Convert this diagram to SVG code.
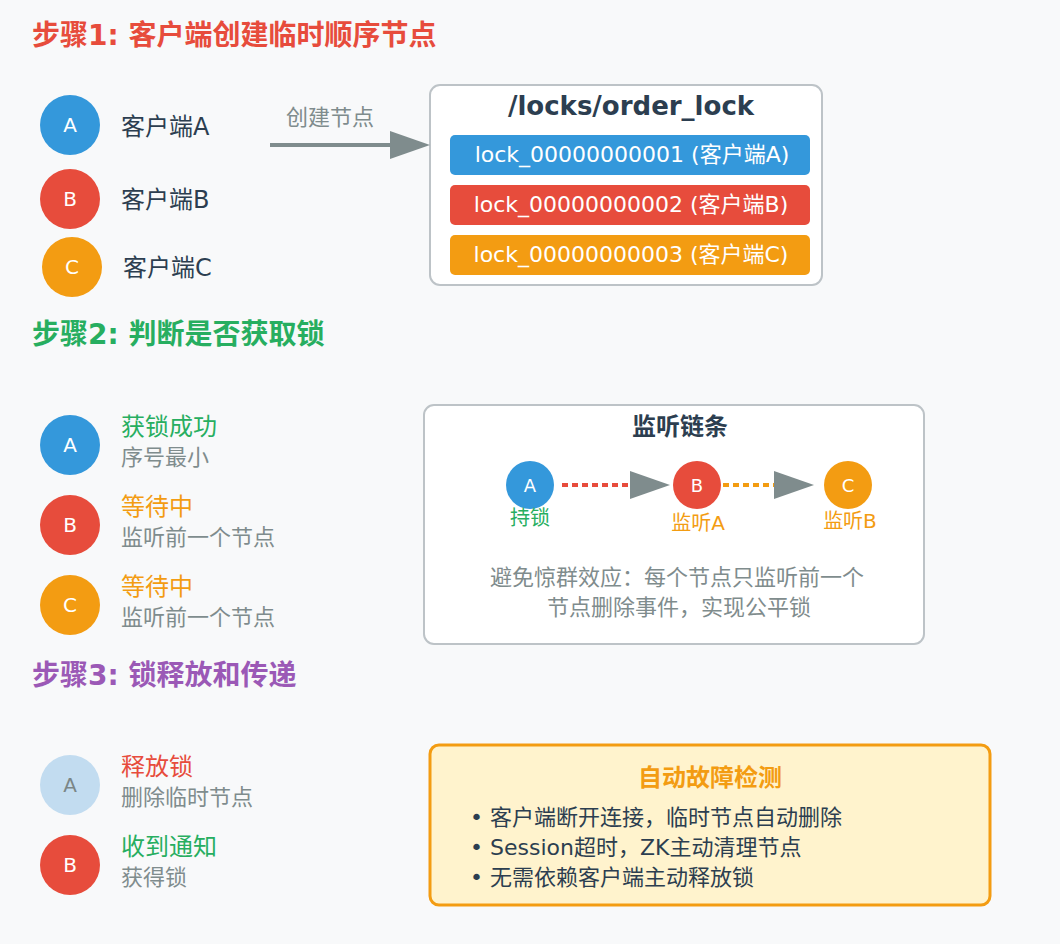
<svg xmlns="http://www.w3.org/2000/svg" width="1060" height="944" viewBox="0 0 1060 944">
<style>
text{font-family:'DejaVu Sans','Noto Sans CJK SC',sans-serif}
.step{font-size:28px;font-weight:bold}
.lbl{font-size:24px}
.sub{font-size:22px;fill:#7f8c8d}
.cl{font-size:20px;fill:#ffffff;text-anchor:middle}
.cs{font-size:18px;fill:#ffffff;text-anchor:middle}
.dark{fill:#2c3e50}
.panel{fill:#ffffff;stroke:#bdc3c7;stroke-width:2}
.bar{font-size:22px;fill:#ffffff;text-anchor:middle}
.blue{fill:#3498db}.red{fill:#e74c3c}.orange{fill:#f39c12}.green{fill:#27ae60}.purple{fill:#9b59b6}
.head{fill:#7f8c8d}
</style>
<rect width="1060" height="944" fill="#f8f9fa"/>

<text class="step red" x="32" y="45">步骤1: 客户端创建临时顺序节点</text>
<text class="step green" x="32" y="344">步骤2: 判断是否获取锁</text>
<text class="step purple" x="32" y="685">步骤3: 锁释放和传递</text>

<g id="s1-clientA"><circle cx="70" cy="125" r="30" class="blue"/><text class="cl" x="70" y="132">A</text><text class="lbl dark" x="121" y="135">客户端A</text></g>
<g id="s1-clientB"><circle cx="70" cy="199" r="30" class="red"/><text class="cl" x="70" y="206">B</text><text class="lbl dark" x="121" y="208">客户端B</text></g>
<g id="s1-clientC"><circle cx="72" cy="267" r="30" class="orange"/><text class="cl" x="72" y="274">C</text><text class="lbl dark" x="123" y="276">客户端C</text></g>

<g id="lock-node">
<rect class="panel" x="430" y="85" width="392" height="200" rx="10"/>
<text x="631" y="115" font-size="26" font-weight="bold" class="dark" text-anchor="middle">/locks/order_lock</text>
<rect x="450" y="135" width="360" height="40" rx="5" class="blue"/>
<text class="bar" x="632" y="162">lock_00000000001 (客户端A)</text>
<rect x="450" y="185" width="360" height="40" rx="5" class="red"/>
<text class="bar" x="631" y="212">lock_00000000002 (客户端B)</text>
<rect x="450" y="235" width="360" height="40" rx="5" class="orange"/>
<text class="bar" x="631" y="262">lock_00000000003 (客户端C)</text>
</g>

<g id="watch-chain">
<rect class="panel" x="424" y="405" width="500" height="239" rx="10"/>
<text x="680" y="435" font-size="24" font-weight="bold" class="dark" text-anchor="middle">监听链条</text>
<text x="677" y="585" font-size="22" fill="#7f8c8d" text-anchor="middle">避免惊群效应：每个节点只监听前一个</text>
<text x="679" y="615" font-size="22" fill="#7f8c8d" text-anchor="middle">节点删除事件，实现公平锁</text>
</g>

<g id="connectors">
<line x1="270" y1="145" x2="392" y2="145" stroke="#7f8c8d" stroke-width="4"/>
<polygon class="head" points="390,131 430,145 390,159"/>
<text x="330" y="125" font-size="22" fill="#7f8c8d" text-anchor="middle">创建节点</text>
<line x1="562" y1="485" x2="632" y2="485" stroke="#e74c3c" stroke-width="4" stroke-dasharray="6,4"/>
<polygon class="head" points="630,471 670,485 630,499"/>
<line x1="723" y1="485" x2="776" y2="485" stroke="#f39c12" stroke-width="4" stroke-dasharray="6,4"/>
<polygon class="head" points="774,471 814,485 774,499"/>
</g>

<g id="chain-A"><circle cx="530" cy="485" r="24" class="blue"/><text class="cs" x="530" y="492">A</text><text x="530" y="525" font-size="20" class="green" text-anchor="middle">持锁</text></g>
<g id="chain-B"><circle cx="697" cy="485" r="24" class="red"/><text class="cs" x="697" y="492">B</text><text x="698" y="530" font-size="20" class="orange" text-anchor="middle">监听A</text></g>
<g id="chain-C"><circle cx="848" cy="485" r="24" class="orange"/><text class="cs" x="848" y="492">C</text><text x="850" y="528" font-size="20" class="orange" text-anchor="middle">监听B</text></g>

<g id="s2-A"><circle cx="70" cy="445" r="30" class="blue"/><text class="cl" x="70" y="452">A</text><text class="lbl green" x="121" y="435">获锁成功</text><text class="sub" x="121" y="465">序号最小</text></g>
<g id="s2-B"><circle cx="70" cy="525" r="30" class="red"/><text class="cl" x="70" y="532">B</text><text class="lbl orange" x="121" y="515">等待中</text><text class="sub" x="121" y="545">监听前一个节点</text></g>
<g id="s2-C"><circle cx="70" cy="605" r="30" class="orange"/><text class="cl" x="70" y="612">C</text><text class="lbl orange" x="121" y="595">等待中</text><text class="sub" x="121" y="625">监听前一个节点</text></g>

<g id="s3-A"><circle cx="70" cy="785" r="30" fill="#c2dcf0"/><text class="cl" x="70" y="792" style="fill:#7b8687">A</text><text class="lbl red" x="121" y="775">释放锁</text><text class="sub" x="121" y="805">删除临时节点</text></g>
<g id="s3-B"><circle cx="70" cy="865" r="30" class="red"/><text class="cl" x="70" y="872">B</text><text class="lbl green" x="121" y="855">收到通知</text><text class="sub" x="121" y="885">获得锁</text></g>

<g id="fault-detect">
<rect x="430" y="745" width="560" height="160" rx="9" fill="#fff3cd" stroke="#f39c12" stroke-width="3"/>
<text x="710" y="786" font-size="24" font-weight="bold" class="orange" text-anchor="middle">自动故障检测</text>
<text x="470" y="825" font-size="22" class="dark">• 客户端断开连接，临时节点自动删除</text>
<text x="470" y="855" font-size="22" class="dark">• Session超时，ZK主动清理节点</text>
<text x="470" y="885" font-size="22" class="dark">• 无需依赖客户端主动释放锁</text>
</g>
</svg>
